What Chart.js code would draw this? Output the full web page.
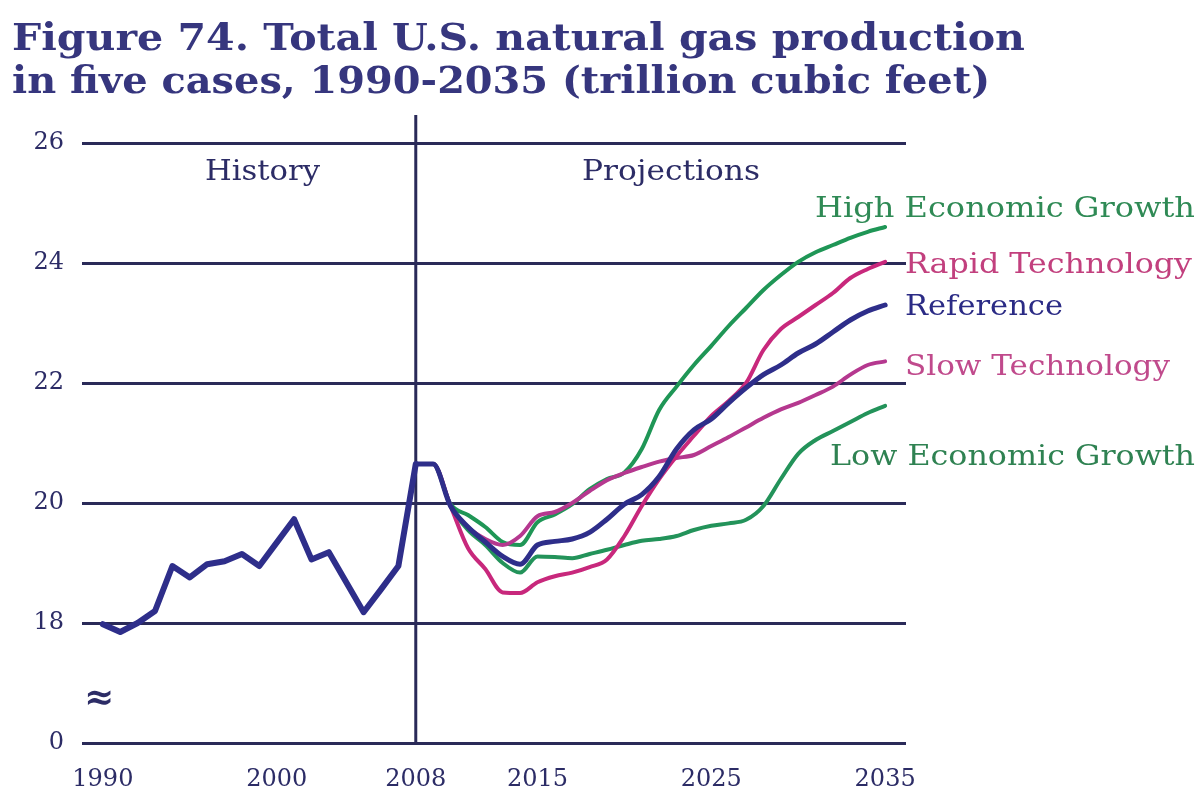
<!DOCTYPE html>
<html>
<head>
<meta charset="utf-8">
<title>Figure 74. Total U.S. natural gas production</title>
<script src="https://cdn.jsdelivr.net/npm/chart.js@4.4.1/dist/chart.umd.min.js"></script>
<style>
    html, body { margin: 0; padding: 0; background: #ffffff; }
    #wrap { width: 1203px; height: 806px; }
</style>
</head>
<body>
<div id="wrap"><canvas id="gasChart" width="1203" height="806"></canvas></div>
<script>
// history, trillion cubic feet
const historyYears = [1990, 1991, 1992, 1993, 1994, 1995, 1996, 1997, 1998, 1999,
    2000, 2001, 2002, 2003, 2004, 2005, 2006, 2007, 2008];
const historyValues = [17.98, 17.85, 18.0, 18.2, 18.95, 18.76, 18.98, 19.03, 19.15, 18.95,
    19.34, 19.73, 19.06, 19.18, 18.68, 18.18, 18.56, 18.95, 20.65];

// projections, five cases
const projectionYears = [2008, 2009, 2010, 2011, 2012, 2013, 2014, 2015, 2016, 2017,
    2018, 2019, 2020, 2021, 2022, 2023, 2024, 2025, 2026, 2027,
    2028, 2029, 2030, 2031, 2032, 2033, 2034, 2035];
const highGrowth = [20.65, 20.65, 19.98, 19.8, 19.6, 19.35, 19.3, 19.68, 19.81, 19.98,
    20.23, 20.4, 20.51, 20.9, 21.55, 21.94, 22.3, 22.62, 22.95, 23.25,
    23.55, 23.8, 24.02, 24.18, 24.3, 24.42, 24.52, 24.6];
const rapidTech = [20.65, 20.65, 19.95, 19.25, 18.9, 18.51, 18.5, 18.68, 18.78, 18.84,
    18.93, 19.06, 19.45, 19.95, 20.4, 20.78, 21.12, 21.45, 21.7, 22.0,
    22.55, 22.9, 23.1, 23.3, 23.5, 23.75, 23.9, 24.02];
const reference = [20.65, 20.65, 19.95, 19.6, 19.35, 19.11, 18.98, 19.3, 19.36, 19.4,
    19.51, 19.73, 19.98, 20.14, 20.44, 20.9, 21.22, 21.4, 21.67, 21.92,
    22.14, 22.3, 22.5, 22.65, 22.85, 23.05, 23.2, 23.3];
const slowTech = [20.65, 20.65, 19.95, 19.6, 19.4, 19.3, 19.45, 19.78, 19.85, 20.0,
    20.2, 20.38, 20.5, 20.6, 20.69, 20.75, 20.8, 20.95, 21.1, 21.26,
    21.42, 21.56, 21.67, 21.8, 21.94, 22.14, 22.3, 22.36];
const lowGrowth = [20.65, 20.65, 19.95, 19.55, 19.3, 19.0, 18.84, 19.11, 19.1, 19.08,
    19.15, 19.22, 19.3, 19.37, 19.4, 19.45, 19.55, 19.62, 19.66, 19.72,
    19.95, 20.4, 20.82, 21.05, 21.2, 21.35, 21.5, 21.62];

const xTickYears = [1990, 2000, 2008, 2015, 2025, 2035];
// axis is broken below 18: the bottom line stands for 0
const yTickValues = [16, 18, 20, 22, 24, 26];

const NAVY = '#2e2e8a';
const GRID = '#2a2a58';
const TEXT = '#2c2c66';

function toPoints(years, values) {
    return years.map((year, i) => ({ x: year, y: values[i] }));
}

// draw text squeezed/stretched to a given width
function fitText(ctx, text, x, y, width) {
    const w = ctx.measureText(text).width;
    ctx.save();
    ctx.translate(x, y);
    ctx.scale(width / w, 1);
    ctx.fillText(text, 0, 0);
    ctx.restore();
}

const figureText = {
    id: 'figureText',
    beforeDatasetsDraw(chart) {
        const { ctx, chartArea, scales } = chart;
        // history / projections divider
        const x = scales.x.getPixelForValue(2008);
        ctx.save();
        ctx.strokeStyle = GRID;
        ctx.lineWidth = 3;
        ctx.beginPath();
        ctx.moveTo(x, chartArea.top - 28);
        ctx.lineTo(x, chartArea.bottom);
        ctx.stroke();
        ctx.restore();
    },
    afterDraw(chart) {
        const ctx = chart.ctx;
        ctx.save();
        ctx.textBaseline = 'alphabetic';
        ctx.textAlign = 'left';

        ctx.fillStyle = '#36367e';
        ctx.font = 'bold 38px "DejaVu Serif"';
        fitText(ctx, 'Figure 74. Total U.S. natural gas production', 12, 50, 1013);
        fitText(ctx, 'in five cases, 1990-2035 (trillion cubic feet)', 12, 93, 978);

        ctx.font = '27px "DejaVu Serif"';
        ctx.fillStyle = TEXT;
        fitText(ctx, 'History', 205, 180, 115);
        fitText(ctx, 'Projections', 582, 180, 178);

        const labels = [
            ['High Economic Growth', 815, 217, 380, '#2f8a55'],
            ['Rapid Technology', 905, 273, 287, '#c2407e'],
            ['Reference', 905, 315, 158, '#2b2b85'],
            ['Slow Technology', 905, 375, 265, '#c04a8c'],
            ['Low Economic Growth', 830, 465, 365, '#2f8252']
        ];
        labels.forEach(([text, lx, ly, lw, color]) => {
            ctx.fillStyle = color;
            fitText(ctx, text, lx, ly, lw);
        });

        // axis break mark
        ctx.fillStyle = TEXT;
        ctx.font = 'bold 36px "DejaVu Serif"';
        ctx.fillText('\u2248', 84, 709);
        ctx.restore();
    }
};

const gasChart = document.getElementById('gasChart');

new Chart(gasChart, {
    type: 'line',
    data: {
        datasets: [
            {
                label: 'History',
                data: toPoints(historyYears, historyValues),
                borderColor: NAVY,
                borderWidth: 6,
                tension: 0,
            },
            {
                label: 'Reference',
                data: toPoints(projectionYears, reference),
                borderColor: NAVY,
                borderWidth: 5,
                cubicInterpolationMode: 'monotone',
            },
            {
                label: 'Rapid Technology',
                data: toPoints(projectionYears, rapidTech),
                borderColor: '#c8287c',
                borderWidth: 4,
                cubicInterpolationMode: 'monotone',
            },
            {
                label: 'Slow Technology',
                data: toPoints(projectionYears, slowTech),
                borderColor: '#b5388f',
                borderWidth: 4,
                cubicInterpolationMode: 'monotone',
            },
            {
                label: 'High Economic Growth',
                data: toPoints(projectionYears, highGrowth),
                borderColor: '#1f9656',
                borderWidth: 4,
                cubicInterpolationMode: 'monotone',
            },
            {
                label: 'Low Economic Growth',
                data: toPoints(projectionYears, lowGrowth),
                borderColor: '#23935a',
                borderWidth: 4,
                cubicInterpolationMode: 'monotone',
            },
        ],
    },
    options: {
        responsive: false,
        animation: false,
        layout: {
            padding: {
                top: 143,
                left: 12,
                right: 297,
                bottom: 0
            }
        },
        elements: {
            point: { radius: 0 },
            line: { borderCapStyle: 'round', borderJoinStyle: 'round' }
        },
        plugins: {
            legend: { display: false },
            title: { display: false },
            tooltip: { enabled: false },
        },
        scales: {
            x: {
                type: 'linear',
                min: 1988.8,
                max: 2036.2,
                afterBuildTicks: (axis) => {
                    axis.ticks = xTickYears.map(v => ({ value: v }));
                },
                afterFit: (axis) => {
                    axis.height = 63;
                },
                grid: { display: false },
                border: { display: false },
                ticks: {
                    color: TEXT,
                    font: { family: 'DejaVu Serif', size: 24 },
                    padding: 14,
                    maxRotation: 0,
                    callback: (value) => String(value),
                },
            },
            y: {
                min: 16,
                max: 26,
                afterBuildTicks: (axis) => {
                    axis.ticks = yTickValues.map(v => ({ value: v }));
                },
                afterFit: (axis) => {
                    axis.width = 70;
                },
                grid: {
                    color: GRID,
                    lineWidth: 3,
                    drawTicks: false,
                },
                border: { display: false },
                ticks: {
                    color: TEXT,
                    font: { family: 'DejaVu Serif', size: 24 },
                    padding: 18,
                    callback: (value) => value === 16 ? '0' : String(value),
                },
            }
        }
    },
    plugins: [figureText],
});
</script>
</body>
</html>
